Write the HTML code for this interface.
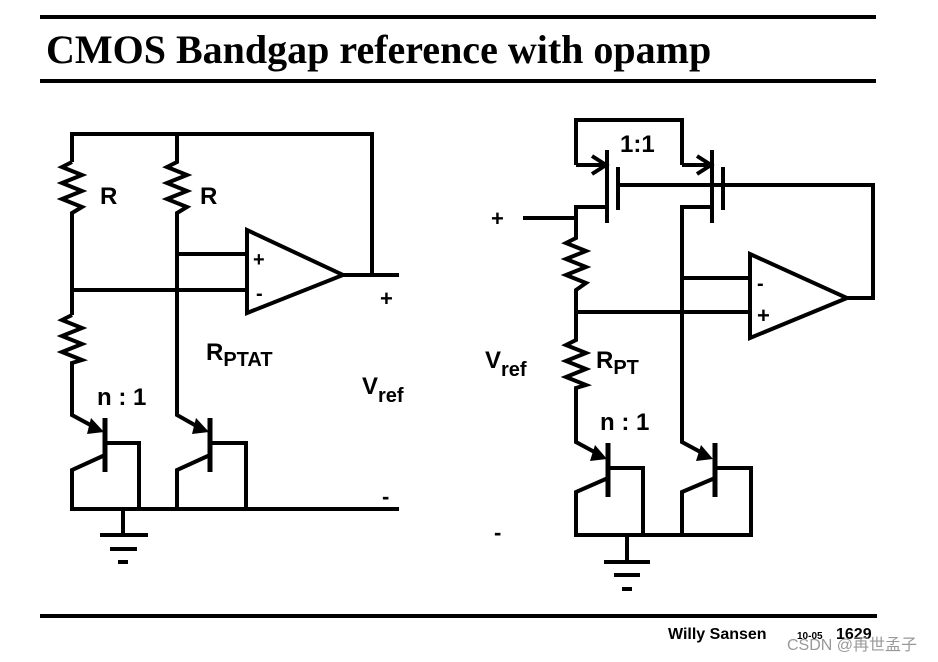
<!DOCTYPE html>
<html><head><meta charset="utf-8"><style>
html,body{margin:0;padding:0;background:#fff;}
svg{display:block;}
.s{font-family:"Liberation Sans",sans-serif;font-weight:bold;fill:#000;}
</style></head><body>
<svg width="938" height="662" viewBox="0 0 938 662" xmlns="http://www.w3.org/2000/svg">
<rect width="938" height="662" fill="#fff"/>
<line x1="40" y1="17" x2="876" y2="17" stroke="#000" stroke-width="4"/>
<line x1="40" y1="81" x2="876" y2="81" stroke="#000" stroke-width="4"/>
<line x1="40" y1="616" x2="877" y2="616" stroke="#000" stroke-width="4"/>
<text x="46" y="63" font-family="Liberation Serif,serif" font-weight="bold" font-size="40" fill="#000">CMOS Bandgap reference with opamp</text>
<text x="668" y="639" class="s" font-size="16">Willy Sansen</text>
<text x="797" y="639" class="s" font-size="10">10-05</text>
<text x="836" y="639" class="s" font-size="16">1629</text>
<text x="787" y="650" font-family="Liberation Sans,'Noto Sans CJK SC',sans-serif" font-size="16" fill="#999">CSDN @再世孟子</text>

<g fill="none" stroke="#000" stroke-width="4" stroke-linejoin="miter">
<polyline points="372,275 372,134 72,134 72,162"/>
<polyline points="72,162 62,167 82,175 62,183 82,191 62,199 82,207 72,213 72,315"/>
<polyline points="177,134 177,162 167,167 187,175 167,183 187,191 167,199 187,207 177,213 177,415 200,428"/>
<polyline points="72,315 62,320 82,328 62,336 82,344 62,352 82,360 72,363 72,415 96,428"/>
<line x1="177" y1="254" x2="247" y2="254"/>
<line x1="72" y1="290" x2="247" y2="290"/>
<polygon points="247,230 247,313 343,275"/>
<line x1="343" y1="275" x2="399" y2="275"/>
<line x1="105" y1="418" x2="105" y2="472" stroke-width="5"/>
<line x1="210" y1="418" x2="210" y2="472" stroke-width="5"/>
<polyline points="105,443 139,443 139,509"/>
<polyline points="105,455 72,470 72,509"/>
<polyline points="210,443 246,443 246,509"/>
<polyline points="210,455 177,470 177,509"/>
<line x1="70" y1="509" x2="399" y2="509"/>
<line x1="123" y1="509" x2="123" y2="535"/>
<line x1="100" y1="535" x2="148" y2="535"/>
<line x1="110" y1="549" x2="137" y2="549"/>
<line x1="118" y1="562" x2="128" y2="562"/>

<polyline points="576,165 576,120 682,120 682,165"/>
<line x1="576" y1="165" x2="607" y2="165"/>
<line x1="682" y1="165" x2="712" y2="165"/>
<line x1="607" y1="150" x2="607" y2="223"/>
<line x1="712" y1="150" x2="712" y2="223"/>
<line x1="618" y1="167" x2="618" y2="210"/>
<line x1="723" y1="167" x2="723" y2="210"/>
<polyline points="618,185 873,185 873,298 847,298"/>
<polyline points="607,207 576,207 576,238 566,243 586,251 566,259 586,267 566,275 586,283 576,290 576,340 566,345 586,353 566,361 586,369 566,377 586,385 576,388 576,442 600,455"/>
<line x1="523" y1="218" x2="576" y2="218"/>
<polyline points="712,207 682,207 682,442 706,455"/>
<line x1="576" y1="312" x2="750" y2="312"/>
<line x1="682" y1="278" x2="750" y2="278"/>
<polygon points="750,254 750,338 847,298"/>
<line x1="608" y1="443" x2="608" y2="497" stroke-width="5"/>
<line x1="715" y1="443" x2="715" y2="497" stroke-width="5"/>
<polyline points="608,468 643,468 643,535"/>
<polyline points="608,478 576,492 576,535"/>
<polyline points="715,468 751,468 751,535"/>
<polyline points="715,478 682,492 682,535"/>
<line x1="574" y1="535" x2="753" y2="535"/>
<line x1="627" y1="535" x2="627" y2="562"/>
<line x1="604" y1="562" x2="650" y2="562"/>
<line x1="614" y1="575" x2="640" y2="575"/>
<line x1="622" y1="589" x2="632" y2="589"/>
</g>
<g fill="#000">
<polygon points="91,418 104,432 87,434"/>
<polygon points="196,418 209,432 192,434"/>
<polygon points="595,445 607,459 590,461"/>
<polygon points="701,445 713,459 696,461"/>
</g>
<g fill="none" stroke="#000" stroke-width="4">
<polyline points="592,156 606,165 592,174"/>
<polyline points="697,156 711,165 697,174"/>
</g>

<g class="s" font-size="24">
<text x="100" y="204" class="s">R</text>
<text x="200" y="204" class="s">R</text>
<text x="253" y="266" class="s" font-size="20">+</text>
<text x="256" y="300" class="s" font-size="20">-</text>
<text x="380" y="306" class="s" font-size="22">+</text>
<text x="382" y="504" class="s" font-size="22">-</text>
<text x="206" y="360" class="s">R<tspan font-size="20" dy="6">PTAT</tspan></text>
<text x="97" y="405" class="s">n : 1</text>
<text x="362" y="394" class="s">V<tspan font-size="20" dy="8">ref</tspan></text>

<text x="620" y="152" class="s">1:1</text>
<text x="491" y="226" class="s" font-size="22">+</text>
<text x="757" y="290" class="s" font-size="20">-</text>
<text x="757" y="323" class="s" font-size="22">+</text>
<text x="485" y="368" class="s">V<tspan font-size="20" dy="8">ref</tspan></text>
<text x="596" y="368" class="s">R<tspan font-size="20" dy="6">PT</tspan></text>
<text x="600" y="430" class="s">n : 1</text>
<text x="494" y="540" class="s" font-size="22">-</text>
</g>
</svg>
</body></html>
